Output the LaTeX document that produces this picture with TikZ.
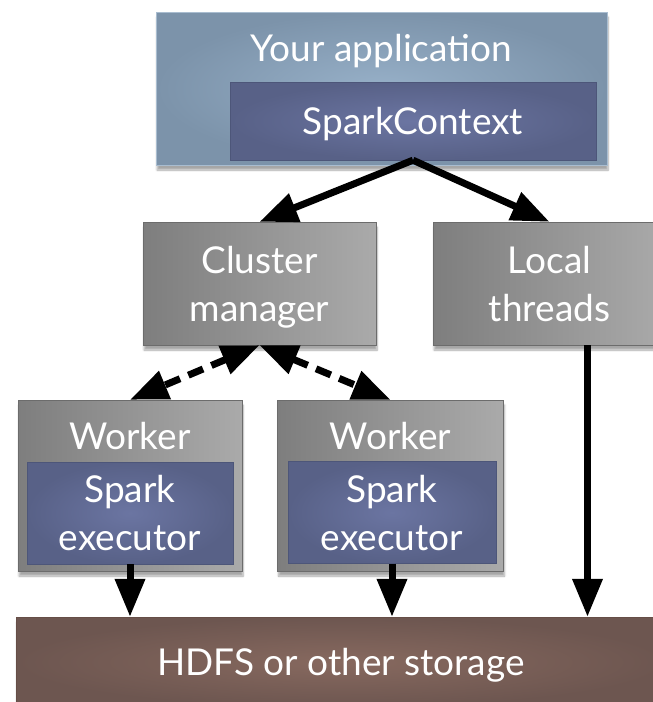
\documentclass[tikz,border=0pt]{standalone}
\usepackage{fontspec}
\setmainfont{Lato}
\usetikzlibrary{positioning,arrows.meta,shadows.blur}

\definecolor{appin}{HTML}{97B0C8}
\definecolor{appout}{HTML}{7C93AA}
\definecolor{appline}{HTML}{A9BDD0}
\definecolor{ctxin}{HTML}{6B75A2}
\definecolor{ctxout}{HTML}{586187}
\definecolor{ctxline}{HTML}{4D5679}
\definecolor{greyleft}{HTML}{7E7E7E}
\definecolor{greyright}{HTML}{AAAAAA}
\definecolor{greyline}{HTML}{6C6C6C}
\definecolor{storein}{HTML}{87695F}
\definecolor{storeout}{HTML}{6D5650}
\definecolor{storeline}{HTML}{664E47}

\begin{document}
\begin{tikzpicture}[
      x=1pt, y=-1pt,
      nodes={
        text=white, align=center, inner sep=0pt, text depth=0pt,
        font=\fontsize{37}{48}\selectfont
      },
      boxshadow/.style={blur shadow={shadow blur steps=8, shadow xshift=1pt,
          shadow yshift=-5pt, shadow opacity=35}},
      appbox/.style={boxshadow, draw=appline, inner color=appin, outer color=appout},
      ctxbox/.style={draw=ctxline, inner color=ctxin, outer color=ctxout},
      greybox/.style={boxshadow, draw=greyline, left color=greyleft, right color=greyright},
      storebox/.style={boxshadow, draw=storeline, inner color=storein, outer color=storeout},
      link/.style={-{Triangle[length=38pt,width=29pt]}, line width=7pt},
      dlink/.style={{Triangle[length=38pt,width=29pt]}-{Triangle[length=38pt,width=29pt]},
          line width=7pt, dash pattern=on 16pt off 9pt}
      ]

      \useasboundingbox (0,0) rectangle (653,702);

      \node[appbox, minimum width=451pt, minimum height=153pt] (app) at (381.5,88.5) {};
      \node[below=22pt of app.north] (apptitle) {Your application};
      \node[ctxbox, minimum width=366pt, minimum height=78pt] (ctx) at (413,121) {SparkContext};

      \node[greybox, minimum width=233pt, minimum height=123pt] (clus) at (259.5,283.5) {Cluster\\manager};
      \node[greybox, minimum width=233pt, minimum height=123pt] (local) at (549.5,283.5) {Local\\threads};

      \node[greybox, minimum width=224pt, minimum height=171pt] (w1) at (130,485.5) {};
      \node[below=22pt of w1.north] (w1title) {Worker};
      \node[ctxbox, minimum width=206pt, minimum height=102pt] (e1) at (130,513) {Spark\\executor};

      \node[greybox, minimum width=226pt, minimum height=171pt] (w2) at (390.5,485.5) {};
      \node[below=22pt of w2.north] (w2title) {Worker};
      \node[ctxbox, minimum width=208pt, minimum height=102pt] (e2) at (392,512.5) {Spark\\executor};

      \node[storebox, minimum width=650pt, minimum height=90pt] (hdfs) at (341,662) {HDFS or other storage};

  % Connect the nodes
  \draw[link] (ctx.south) -- (clus.north);
  \draw[link] (ctx.south) -- (local.north);
  \draw[dlink] (clus.south) -- (w1.north);
  \draw[dlink] (clus.south) -- (w2.north);
  \draw[link] (e1.south) -- (e1.south |- hdfs.north);
  \draw[link] (e2.south) -- (e2.south |- hdfs.north);
  \draw[link] ([xshift=38pt]local.south) -- ([xshift=38pt]local.south |- hdfs.north);

\end{tikzpicture}
\end{document}
